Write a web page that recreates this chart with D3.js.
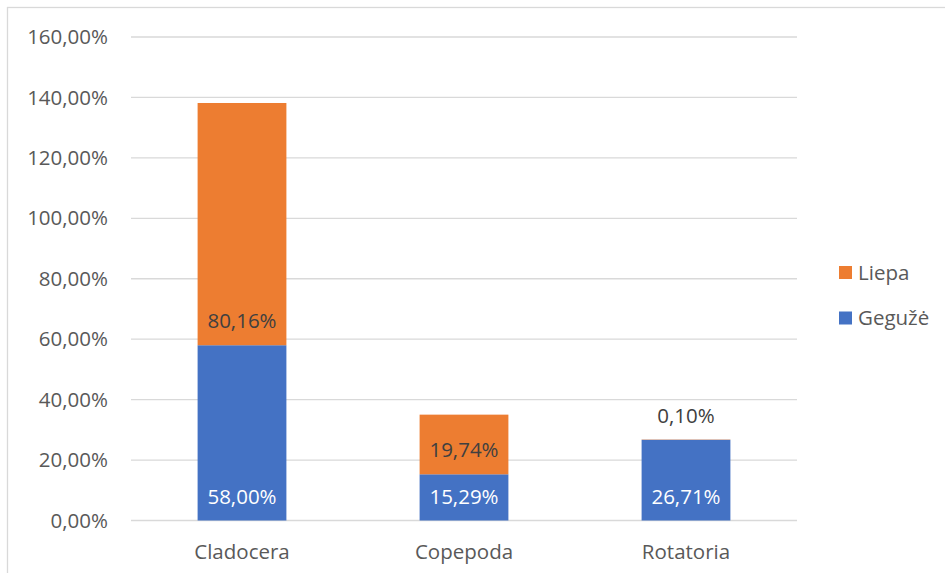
<!DOCTYPE html>
<html>
<head>
<meta charset="utf-8">
<script src="https://cdn.jsdelivr.net/npm/d3@7"></script>
<style>
  html, body { margin: 0; padding: 0; background: #fff; }
  svg { display: block; }
  text { font-family: "Open Sans", sans-serif; }
</style>
</head>
<body>
<svg id="chart" width="945" height="573"></svg>
<script>
const categories = ["Cladocera", "Copepoda", "Rotatoria"];
const seriesNames = ["Gegužė", "Liepa"];
const geguze = [58.00, 15.29, 26.71];
const liepa = [80.16, 19.74, 0.10];
const yTicks = [0, 20, 40, 60, 80, 100, 120, 140, 160];
const colors = ["#4472C4", "#ED7D31"];
const labelColors = ["#FFFFFF", "#404040"];

const fmt = v => v.toFixed(2).replace(".", ",") + "%";

const svg = d3.select("#chart");
const W = 945, H = 573;
const plot = { left: 131, right: 797, top: 37, bottom: 520.5 };

// chart border
svg.append("rect")
  .attr("x", 7.5).attr("y", 7.5)
  .attr("width", W + 20).attr("height", H + 20)
  .attr("fill", "none").attr("stroke", "#D9D9D9").attr("stroke-width", 1.3);

const x = d3.scaleBand().domain(categories).range([plot.left, plot.right]).paddingInner(0.6).paddingOuter(0.3);
const y = d3.scaleLinear().domain([0, 160]).range([plot.bottom, plot.top]);

// gridlines
svg.append("g").selectAll("line").data(yTicks).join("line")
  .attr("x1", plot.left).attr("x2", plot.right)
  .attr("y1", d => y(d)).attr("y2", d => y(d))
  .attr("stroke", "#D9D9D9").attr("stroke-width", 1.3);

// y axis labels
const yAxis = d3.axisLeft(y).tickValues(yTicks).tickFormat(fmt).tickSize(0).tickPadding(0);
const yg = svg.append("g").attr("transform", `translate(108,0)`).call(yAxis);
yg.select(".domain").remove();
yg.selectAll("text").attr("fill", "#595959").style("font-size", "20.5px").style("font-family", "'Open Sans', sans-serif");

// x axis labels
const xAxis = d3.axisBottom(x).tickSize(0).tickPadding(0);
const xg = svg.append("g").attr("transform", `translate(0,${plot.bottom})`).call(xAxis);
xg.select(".domain").remove();
xg.selectAll("text").attr("fill", "#595959").attr("dy", null).attr("y", 38)
  .style("font-size", "20.5px").style("font-family", "'Open Sans', sans-serif");

// stacked data
const rows = categories.map((c, i) => ({ cat: c, g: geguze[i], l: liepa[i] }));
const stack = d3.stack().keys(["g", "l"])(rows);

stack.forEach((layer, si) => {
  const g = svg.append("g");
  g.selectAll("rect").data(layer).join("rect")
    .attr("x", d => x(d.data.cat))
    .attr("width", x.bandwidth())
    .attr("y", d => y(d[1]))
    .attr("height", d => y(d[0]) - y(d[1]))
    .attr("fill", colors[si]);
  g.selectAll("text").data(layer).join("text")
    .attr("x", d => x(d.data.cat) + x.bandwidth() / 2)
    .attr("y", d => y(d[0]) - 24)
    .attr("dy", "0.35em")
    .attr("text-anchor", "middle")
    .attr("fill", d => (si === 1 && (d[1] - d[0]) < 5) ? "#404040" : labelColors[si])
    .style("font-size", "20.5px")
    .text(d => fmt(d[1] - d[0]));
});

// legend
const legendItems = [{ name: seriesNames[1], color: colors[1], cy: 272.5 }, { name: seriesNames[0], color: colors[0], cy: 318 }];
const lg = svg.append("g");
legendItems.forEach(it => {
  lg.append("rect").attr("x", 839).attr("y", it.cy - 6.5).attr("width", 13).attr("height", 13).attr("fill", it.color);
  lg.append("text").attr("x", 858).attr("y", it.cy).attr("dy", "0.35em")
    .attr("fill", "#595959").style("font-size", "20.5px").text(it.name);
});
</script>
</body>
</html>
